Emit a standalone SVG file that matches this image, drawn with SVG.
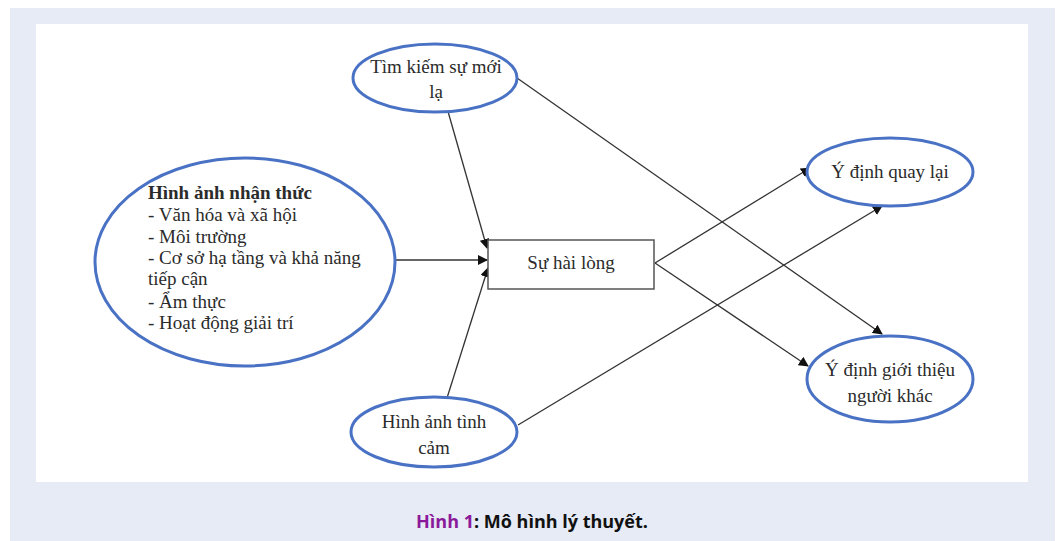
<svg xmlns="http://www.w3.org/2000/svg" width="1058" height="541" viewBox="0 0 1058 541">
<defs>
<style>
.bg{fill:#e6ebf5}
.panel{fill:#ffffff}
.ell{fill:#ffffff;stroke:#4a72c4;stroke-width:3}
.box{fill:#ffffff;stroke:#555555;stroke-width:1.5}
.t{font-family:"Liberation Serif",serif;font-size:19px;fill:#2b2b2b}
.tb{font-weight:bold}
.c{text-anchor:middle}
.edge{stroke:#333333;stroke-width:1.3;fill:none;marker-end:url(#ah)}
.cap{font-family:"Open Sans","Noto Sans",sans-serif;font-size:18px;font-weight:bold;text-anchor:middle}
</style>
<marker id="ah" viewBox="0 0 10 10" refX="9" refY="5" markerWidth="10" markerHeight="10" markerUnits="userSpaceOnUse" orient="auto">
<path d="M0,0 L10,5 L0,10 z" fill="#111111"/>
</marker>
</defs>
<rect class="bg" x="10" y="8" width="1045" height="533"/>
<rect class="panel" x="36" y="24" width="992" height="458"/>
<g id="connectors">
<line class="edge" x1="447" y1="108" x2="487" y2="248"/>
<line class="edge" x1="395" y1="260" x2="487" y2="260"/>
<line class="edge" x1="447" y1="398" x2="488" y2="268"/>
<line class="edge" x1="655" y1="263" x2="810" y2="168"/>
<line class="edge" x1="655" y1="263" x2="808" y2="366"/>
<line class="edge" x1="517" y1="78" x2="882" y2="334"/>
<line class="edge" x1="518" y1="425" x2="882" y2="206"/>
</g>
<g id="node-timkiem">
<ellipse class="ell" cx="435" cy="78" rx="82" ry="34"/>
<text class="t c" x="436" y="73">Tìm kiếm sự mới</text>
<text class="t c" x="436" y="98">lạ</text>
</g>
<g id="node-hinhanhnhanthuc">
<ellipse class="ell" cx="245" cy="262" rx="150" ry="104"/>
<text class="t" x="148" y="199"><tspan class="tb">Hình ảnh nhận thức</tspan></text>
<text class="t" x="148" y="221">- Văn hóa và xã hội</text>
<text class="t" x="148" y="243">- Môi trường</text>
<text class="t" x="148" y="264">- Cơ sở hạ tầng và khả năng</text>
<text class="t" x="148" y="285">tiếp cận</text>
<text class="t" x="148" y="308">- Ẩm thực</text>
<text class="t" x="148" y="329">- Hoạt động giải trí</text>
</g>
<g id="node-tinhcam">
<ellipse class="ell" cx="434" cy="432" rx="83" ry="35"/>
<text class="t c" x="434" y="428">Hình ảnh tình</text>
<text class="t c" x="434" y="454">cảm</text>
</g>
<g id="node-hailong">
<rect class="box" x="488" y="240" width="166" height="49"/>
<text class="t c" x="571" y="269">Sự hài lòng</text>
</g>
<g id="node-quaylai">
<ellipse class="ell" cx="890" cy="172" rx="83" ry="34"/>
<text class="t c" x="890" y="178">Ý định quay lại</text>
</g>
<g id="node-gioithieu">
<ellipse class="ell" cx="890" cy="379" rx="83" ry="43"/>
<text class="t c" x="890" y="376">Ý định giới thiệu</text>
<text class="t c" x="890" y="402">người khác</text>
</g>
<text class="cap" x="532" y="528"><tspan fill="#8b1a9b">Hình 1</tspan><tspan fill="#111111">: Mô hình lý thuyết.</tspan></text>
</svg>
